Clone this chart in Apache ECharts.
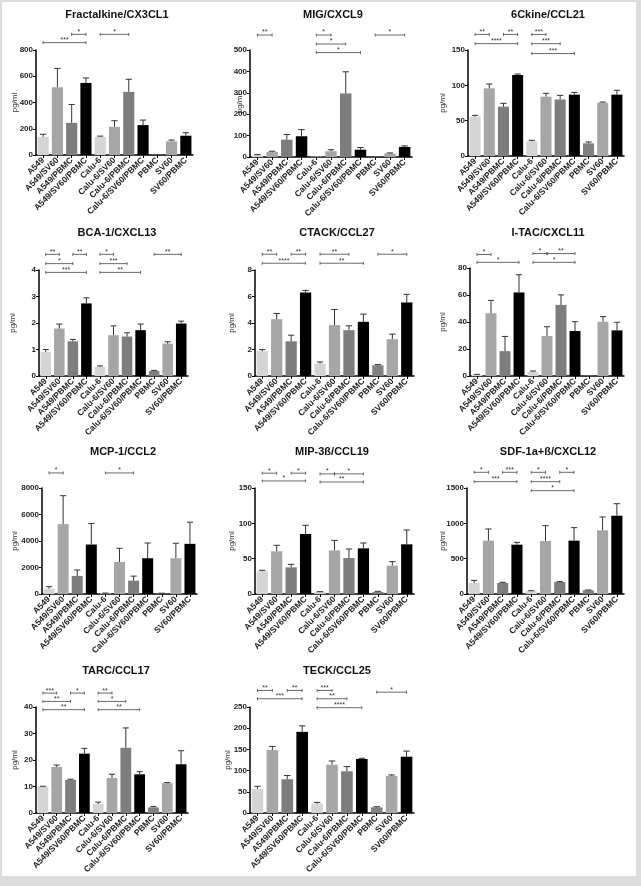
<!DOCTYPE html>
<html>
<head>
<meta charset="utf-8">
<script src="https://cdn.jsdelivr.net/npm/echarts@6/dist/echarts.min.js"></script>
<style>
  html, body { margin: 0; padding: 0; background: #fff; }
  #frame { position: relative; width: 641px; height: 886px; background: #dcdcdc; }
  #paper { position: absolute; left: 2px; top: 2px; width: 634px; height: 874px; background: #fff; }
  #chart { position: absolute; left: 0; top: 0; width: 641px; height: 886px; }
</style>
</head>
<body>
<div id="frame">
  <div id="paper"></div>
  <div id="chart"></div>
</div>
<script>
const categories = ['A549', 'A549/SV60', 'A549/PBMC', 'A549/SV60/PBMC', 'Calu-6', 'Calu-6/SV60',
  'Calu-6/PBMC', 'Calu-6/SV60/PBMC', 'PBMC', 'SV60', 'SV60/PBMC']
const barColors = ['#d4d4d4', '#a6a6a6', '#7d7d7d', '#000000', '#d4d4d4', '#a6a6a6',
  '#7d7d7d', '#000000', '#808080', '#a6a6a6', '#000000']

// mean, error (up) and significance brackets [from, to, height, stars]
const fractalkineMean = [138, 516, 245, 549, 137, 215, 481, 228, 2, 104, 147]
const fractalkineErr = [20, 144, 140, 38, 7, 46, 96, 38, 0, 10, 23]
const fractalkineSig = [[0, 3, 856, '***'], [2, 3, 919, '*'], [4, 6, 919, '*']]

const migMean = [8, 23, 81, 97, 2, 27, 297, 34, 1, 16, 47]
const migErr = [3, 4, 24, 31, 0, 7, 101, 10, 0, 3, 5]
const migSig = [[0, 1, 570, '**'], [4, 5, 570, '*'], [4, 6, 528, '*'], [4, 7, 488, '*'], [8, 10, 570, '*']]

const ckineMean = [55.7, 95.8, 69.8, 114.6, 20.8, 84, 80, 86.8, 17.9, 75.5, 86.8]
const ckineErr = [1.8, 6.1, 4.7, 1.4, 1.4, 4.7, 5.8, 3.2, 1.9, 0.9, 6.2]
const ckineSig = [[0, 1, 172, '**'], [2, 3, 172, '**'], [0, 3, 159, '****'], [4, 5, 172, '***'],
  [4, 6, 159, '***'], [4, 7, 145, '***']]

const bcaMean = [0.9, 1.79, 1.31, 2.74, 0.34, 1.54, 1.49, 1.73, 0.19, 1.22, 1.98]
const bcaErr = [0.1, 0.17, 0.07, 0.21, 0.04, 0.35, 0.14, 0.23, 0.02, 0.07, 0.09]
const bcaSig = [[0, 1, 4.59, '**'], [2, 3, 4.59, '**'], [0, 2, 4.24, '*'], [0, 3, 3.91, '***'],
  [4, 5, 4.59, '*'], [4, 6, 4.24, '***'], [4, 7, 3.91, '**'], [8, 10, 4.59, '**']]

const ctackMean = [1.87, 4.29, 2.62, 6.31, 0.93, 3.84, 3.46, 4.09, 0.81, 2.78, 5.55]
const ctackErr = [0.12, 0.43, 0.46, 0.15, 0.13, 1.18, 0.33, 0.58, 0.05, 0.38, 0.61]
const ctackSig = [[0, 1, 9.19, '**'], [2, 3, 9.19, '**'], [0, 3, 8.51, '****'], [4, 6, 9.19, '**'],
  [4, 7, 8.51, '**'], [8, 10, 9.19, '*']]

const itacMean = [0.8, 46.5, 18.4, 61.9, 3, 29.6, 52.7, 33.3, 0.3, 40.2, 33.8]
const itacErr = [0.4, 9.5, 10.9, 13.1, 0.7, 6.9, 7.4, 6.9, 0, 3.8, 6]
const itacSig = [[0, 1, 90, '*'], [0, 3, 84.2, '*'], [4, 5, 90.7, '*'], [5, 7, 90.7, '**'], [4, 7, 84.2, '*']]

const mcpMean = [404, 5275, 1363, 3735, 50, 2420, 1010, 2700, 50, 2700, 3785]
const mcpErr = [150, 2145, 450, 1590, 20, 1030, 340, 1150, 10, 1130, 1635]
const mcpSig = [[0, 1, 9136, '*'], [4, 6, 9136, '*']]

const mipMean = [32, 60.4, 37.7, 84.9, 2.8, 61.8, 50.9, 64.6, 2.8, 40.1, 70.3]
const mipErr = [1.5, 8.5, 4.3, 12.3, 0.5, 14.1, 12.8, 7.6, 1, 5.7, 20.3]
const mipSig = [[0, 1, 171, '*'], [2, 3, 171, '*'], [0, 3, 160, '*'], [4, 5, 170, '*'],
  [5, 7, 170, '*'], [4, 7, 158.5, '**']]

const sdfMean = [156, 755, 156, 698, 42, 750, 170, 755, 52, 901, 1108]
const sdfErr = [37, 165, 9, 33, 5, 217, 5, 184, 5, 189, 170]
const sdfSig = [[0, 1, 1722, '*'], [2, 3, 1722, '***'], [0, 3, 1590, '***'], [4, 5, 1722, '*'],
  [6, 7, 1722, '*'], [4, 6, 1590, '****'], [4, 7, 1462, '*']]

const tarcMean = [10, 17.4, 12.5, 22.4, 3.4, 13.25, 24.6, 14.6, 2.1, 11.25, 18.4]
const tarcErr = [0.1, 0.7, 0.25, 2, 0.7, 1.35, 7.5, 1, 0.3, 0.25, 5.1]
const tarcSig = [[0, 1, 45.25, '***'], [2, 3, 45.25, '*'], [0, 2, 42.1, '**'], [0, 3, 39, '**'],
  [4, 5, 45.25, '**'], [4, 6, 42.1, '*'], [4, 7, 39, '**']]

const teckMean = [57, 148.4, 79.7, 191.4, 21.9, 114, 98.4, 127.3, 13.3, 87.5, 132.8]
const teckErr = [6, 8.6, 8.6, 14.1, 3.1, 8.7, 11, 1.7, 1.5, 2.3, 13.2]
const teckSig = [[0, 1, 289, '**'], [2, 3, 289, '**'], [0, 3, 269.5, '***'], [4, 5, 289, '***'],
  [4, 6, 269.5, '**'], [4, 7, 248.4, '****'], [8, 10, 285, '*']]

const titles = ['Fractalkine/CX3CL1', 'MIG/CXCL9', '6Ckine/CCL21', 'BCA-1/CXCL13', 'CTACK/CCL27',
  'I-TAC/CXCL11', 'MCP-1/CCL2', 'MIP-3ß/CCL19', 'SDF-1a+ß/CXCL12', 'TARC/CCL17', 'TECK/CCL25']
const means = [fractalkineMean, migMean, ckineMean, bcaMean, ctackMean, itacMean, mcpMean, mipMean, sdfMean, tarcMean, teckMean]
const errs = [fractalkineErr, migErr, ckineErr, bcaErr, ctackErr, itacErr, mcpErr, mipErr, sdfErr, tarcErr, teckErr]
const sigs = [fractalkineSig, migSig, ckineSig, bcaSig, ctackSig, itacSig, mcpSig, mipSig, sdfSig, tarcSig, teckSig]
const axisMax = [800, 500, 150, 4, 8, 80, 8000, 150, 1500, 40, 250]
const axisStep = [200, 100, 50, 1, 2, 20, 2000, 50, 500, 10, 50]

// [left, top, width, height, titleX, titleY, nameGap]
const layout = [
  [36, 50, 157, 105, 117, 15, 17],
  [250, 50, 162, 107, 333, 15, 6],
  [468, 50, 156, 106, 548, 15, 21],
  [39, 270, 149, 106, 117, 233, 22],
  [255, 270, 159, 106, 337, 233, 19],
  [470, 268, 154, 108, 548, 233, 23],
  [42, 488, 155, 106, 123, 452, 23],
  [255, 488, 159, 106, 332, 452, 19],
  [467, 488, 157, 106, 548, 452, 20],
  [36, 707, 152, 106, 116, 671, 17],
  [250, 707, 164, 106, 337, 671, 18]
]

const FONT = '"Liberation Sans", Arial, sans-serif'
const chart = echarts.init(document.getElementById('chart'), null, { renderer: 'canvas' })

const grid = [], xAxis = [], yAxis = [], series = [], graphic = []

titles.forEach((t, k) => {
  const [left, top, width, height, tx, ty, gap] = layout[k]
  grid.push({ left: left, top: top, width: width, height: height })
  xAxis.push({
    type: 'category', gridIndex: k, data: categories,
    axisLine: { lineStyle: { color: '#000', width: 1.5 } },
    axisTick: { show: true, alignWithLabel: true, length: 3, lineStyle: { color: '#000' } },
    axisLabel: { rotate: 45, fontSize: 8.5, fontWeight: 'bold', color: '#222', margin: 4, fontFamily: FONT, interval: 0 }
  })
  yAxis.push({
    type: 'value', gridIndex: k, min: 0, max: axisMax[k], interval: axisStep[k],
    name: 'pg/ml', nameLocation: 'middle', nameGap: gap, nameRotate: 90, nameMoveOverlap: false,
    nameTextStyle: { fontSize: 8, color: '#333', fontFamily: FONT },
    axisLine: { show: true, lineStyle: { color: '#000', width: 1.5 } },
    axisTick: { show: true, length: 3, lineStyle: { color: '#000' } },
    splitLine: { show: false },
    axisLabel: { fontSize: 8, fontWeight: 'bold', color: '#222', margin: 3, fontFamily: FONT, formatter: v => String(v) }
  })
  series.push({
    type: 'bar', xAxisIndex: k, yAxisIndex: k, barWidth: '78%',
    data: means[k].map((v, i) => ({ value: v, itemStyle: { color: barColors[i] } })),
    silent: true
  })
  series.push({
    type: 'custom', xAxisIndex: k, yAxisIndex: k, clip: false, z: 3, silent: true,
    encode: { x: 0, y: 1 },
    data: means[k].map((v, i) => [i, v, errs[k][i]]),
    renderItem(params, api) {
      const i = api.value(0), m = api.value(1), e = api.value(2)
      if (!e) return null
      const p0 = api.coord([i, m])
      const p1 = api.coord([i, m + e])
      const half = api.size([1, 0])[0] * 0.22
      const st = { stroke: '#333', lineWidth: 1 }
      return {
        type: 'group', children: [
          { type: 'line', shape: { x1: p0[0], y1: p0[1], x2: p1[0], y2: p1[1] }, style: st },
          { type: 'line', shape: { x1: p1[0] - half, y1: p1[1], x2: p1[0] + half, y2: p1[1] }, style: st }
        ]
      }
    }
  })
  const sig = sigs[k]
  series.push({
    type: 'custom', xAxisIndex: k, yAxisIndex: k, clip: false, z: 3, silent: true,
    encode: { x: 0, y: 2 },
    data: sig.map(s => [s[0], s[1], s[2]]),
    renderItem(params, api) {
      const a = api.coord([api.value(0), api.value(2)])
      const b = api.coord([api.value(1), api.value(2)])
      const st = { stroke: '#444', lineWidth: 0.8 }
      return {
        type: 'group', children: [
          { type: 'line', shape: { x1: a[0], y1: a[1], x2: b[0], y2: b[1] }, style: st },
          { type: 'line', shape: { x1: a[0], y1: a[1] - 1.5, x2: a[0], y2: a[1] + 1.5 }, style: st },
          { type: 'line', shape: { x1: b[0], y1: b[1] - 1.5, x2: b[0], y2: b[1] + 1.5 }, style: st },
          {
            type: 'text', x: (a[0] + b[0]) / 2, y: a[1] + 1,
            style: { text: sig[params.dataIndex][3], fontSize: 7, fontFamily: FONT, fill: '#333', align: 'center', verticalAlign: 'bottom' }
          }
        ]
      }
    }
  })
  graphic.push({
    type: 'text', x: tx, y: ty,
    style: { text: t, fontSize: 11, fontWeight: 'bold', fontFamily: FONT, fill: '#111', align: 'center', verticalAlign: 'middle' }
  })
})

chart.setOption({
  animation: false,
  backgroundColor: 'transparent',
  grid: grid,
  xAxis: xAxis,
  yAxis: yAxis,
  series: series,
  graphic: graphic
})
</script>
</body>
</html>
